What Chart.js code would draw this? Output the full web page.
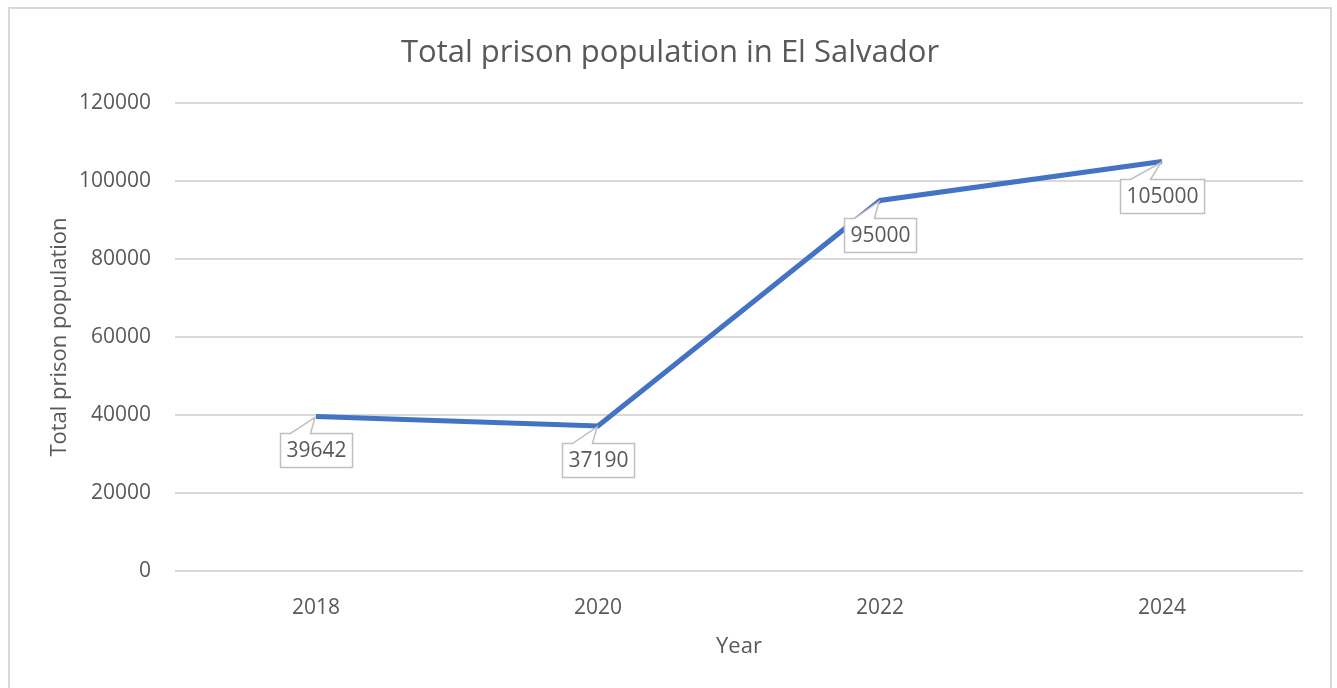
<!DOCTYPE html>
<html>
<head>
<meta charset="utf-8">
<script src="https://cdn.jsdelivr.net/npm/chart.js@4"></script>
<style>
  html, body { margin: 0; padding: 0; background: #fff; }
  #wrap { width: 1337px; height: 688px; }
</style>
</head>
<body>
<div id="wrap"><canvas id="prisonChart" width="1337" height="688"></canvas></div>
<script>
// chart data
const years = ['2018', '2020', '2022', '2024'];
const population = [39642, 37190, 95000, 105000];
const yTicks = [0, 20000, 40000, 60000, 80000, 100000, 120000];

const chartTitle = 'Total prison population in El Salvador';
const xTitle = 'Year';
const yTitle = 'Total prison population';

const textColor = '#595959';
const gridColor = '#d9d9d9';
const lineColor = '#4472c4';
const fontFamily = '"Open Sans", Lato, sans-serif';

// frame, title and axis titles
const decorPlugin = {
    id: 'decor',
    beforeDraw(chart) {
        const ctx = chart.ctx;
        ctx.save();
        ctx.fillStyle = '#fff';
        ctx.fillRect(0, 0, chart.width, chart.height);
        ctx.strokeStyle = gridColor;
        ctx.lineWidth = 2;
        ctx.strokeRect(9, 8, 1322, 700);
        ctx.restore();
    },
    afterDraw(chart) {
        const ctx = chart.ctx;
        const area = chart.chartArea;
        ctx.save();
        ctx.fillStyle = textColor;
        ctx.textAlign = 'center';
        ctx.textBaseline = 'middle';
        ctx.font = '31px ' + fontFamily;
        ctx.fillText(chartTitle, 670, 53);
        ctx.font = '22px ' + fontFamily;
        ctx.fillText(xTitle, (area.left + area.right) / 2, 647);
        ctx.translate(60, (area.top + area.bottom) / 2);
        ctx.rotate(-Math.PI / 2);
        ctx.fillText(yTitle, 0, 0);
        ctx.restore();
    }
};

// callout style data labels
const calloutPlugin = {
    id: 'callouts',
    afterDatasetsDraw(chart) {
        const ctx = chart.ctx;
        const meta = chart.getDatasetMeta(0);
        ctx.save();
        ctx.font = '21px ' + fontFamily;
        meta.data.forEach(function (pt, i) {
            const text = String(chart.data.datasets[0].data[i]);
            const w = ctx.measureText(text).width + 12;
            const h = 34;
            const left = Math.round(pt.x - w / 2) + 0.5;
            const top = Math.round(pt.y + 17) + 0.5;
            const b1 = left + 10, b2 = left + 30;

            ctx.beginPath();
            ctx.moveTo(left, top);
            ctx.lineTo(b1, top);
            ctx.lineTo(pt.x - 1, pt.y + 1);
            ctx.lineTo(b2, top);
            ctx.lineTo(left + w, top);
            ctx.lineTo(left + w, top + h);
            ctx.lineTo(left, top + h);
            ctx.closePath();
            ctx.fillStyle = '#fff';
            ctx.fill();
            ctx.strokeStyle = '#bfbfbf';
            ctx.lineWidth = 1.5;
            ctx.stroke();

            ctx.fillStyle = textColor;
            ctx.textAlign = 'center';
            ctx.textBaseline = 'middle';
            ctx.fillText(text, left + w / 2, top + h / 2 + 1);
        });
        ctx.restore();
    }
};

const ctx = document.getElementById('prisonChart').getContext('2d');
const prisonChart = new Chart(ctx, {
    type: 'line',
    data: {
        labels: years,
        datasets: [{
            label: 'Total prison population',
            data: population,
            borderColor: lineColor,
            borderWidth: 5,
            pointRadius: 0,
            tension: 0,
            fill: false
        }]
    },
    options: {
        responsive: false,
        animation: false,
        layout: { padding: { left: 0, right: 34, top: 103, bottom: 0 } },
        plugins: {
            legend: { display: false },
            title: { display: false },
            tooltip: { enabled: false }
        },
        scales: {
            x: {
                offset: true,
                grid: { display: false, drawTicks: false },
                border: { display: false },
                ticks: {
                    color: textColor,
                    font: { family: fontFamily, size: 21 },
                    padding: 24,
                    maxRotation: 0
                },
                afterFit(scale) { scale.height = 117; }
            },
            y: {
                min: 0,
                max: 120000,
                grid: { color: gridColor, lineWidth: 2, drawTicks: false },
                border: { display: false },
                afterBuildTicks(scale) {
                    scale.ticks = yTicks.map(v => ({ value: v }));
                },
                ticks: {
                    color: textColor,
                    font: { family: fontFamily, size: 21 },
                    padding: 24,
                    callback: v => String(v)
                },
                afterFit(scale) { scale.width = 175; }
            }
        }
    },
    plugins: [decorPlugin, calloutPlugin]
});
</script>
</body>
</html>
